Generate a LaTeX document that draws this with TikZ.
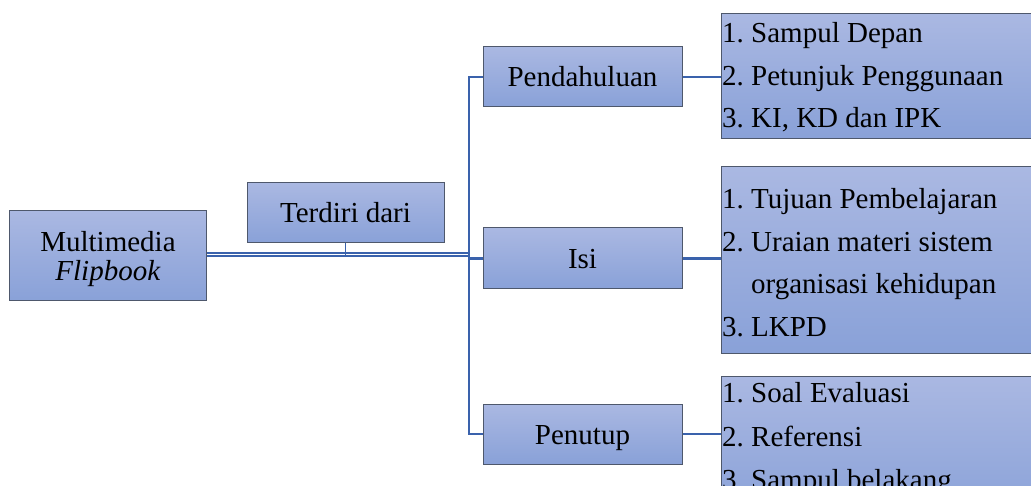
\documentclass[tikz,border=0pt]{standalone}
\usepackage{fontspec}
\setmainfont{Liberation Serif}
\frenchspacing
\definecolor{boxtop}{RGB}{170,184,226}
\definecolor{boxbot}{RGB}{137,161,216}
\definecolor{boxline}{RGB}{78,88,108}
\definecolor{linkblue}{RGB}{58,98,172}
\tikzset{
  box/.style={draw=boxline, line width=1pt, top color=boxtop, bottom color=boxbot,
    inner sep=0pt, font=\fontsize{29}{30}\selectfont, align=center,
    text height=20pt, text depth=0pt},
  panel/.style={draw=boxline, line width=1pt, top color=boxtop, bottom color=boxbot, inner sep=0pt},
  item/.style={anchor=base west, inner sep=0pt, font=\fontsize{29}{30}\selectfont},
  link/.style={draw=linkblue, line width=2.2pt},
  dbl/.style={draw=linkblue, double=white, double distance=1.6pt, line width=1.8pt}
}
\begin{document}
\begin{tikzpicture}[x=1pt,y=-1pt]
\useasboundingbox (0,0) rectangle (1031,486);
\clip (0,0) rectangle (1031,486);
% left boxes
\node[panel, minimum width=197pt, minimum height=90pt] (mm) at (108,256) {};
\node[inner sep=0pt, font=\fontsize{29}{30}\selectfont, align=center] (mmt) at (108,259) {Multimedia\\[-1pt]\textit{Flipbook}};
\node[box, minimum width=197pt, minimum height=60pt] (td) at (345.5,213) {Terdiri dari};
\node[box, minimum width=199pt, minimum height=60pt] (pend) at (582.5,77) {Pendahuluan};
\node[box, minimum width=199pt, minimum height=61pt] (isi) at (582.5,258.5) {Isi};
\node[box, minimum width=199pt, minimum height=60pt] (pen) at (582.5,434) {Penutup};
% right boxes
\node[panel, minimum width=319pt, minimum height=125pt] (b1) at (880.5,76.5) {};
\node[panel, minimum width=319pt, minimum height=187pt] (b2) at (880.5,260.5) {};
\node[panel, minimum width=319pt, minimum height=144pt] (b3) at (880.5,448) {};
% items
\node[item] (a1) at (722,43) {1. Sampul Depan};
\node[item] (a2) at (722,86) {2. Petunjuk Penggunaan};
\node[item] (a3) at (722,128) {3. KI, KD dan IPK};
\node[item] (c1) at (722,209) {1. Tujuan Pembelajaran};
\node[item] (c2) at (722,252) {2. Uraian materi sistem};
\node[item] (c2b) at (751,294) {organisasi kehidupan};
\node[item] (c3) at (722,337) {3. LKPD};
\node[item] (d1) at (722,402) {1. Soal Evaluasi};
\node[item] (d2) at (722,446) {2. Referensi};
\node[item] (d3) at (722,489) {3. Sampul belakang};
% connectors
\coordinate (jn) at (469,258.5);
\draw[dbl] ([yshift=1.5pt]mm.east) -- ([yshift=1.5pt]mm.east -| jn);
\draw[draw=linkblue, line width=1.8pt] (td.south) -- ++(0,13.6);
\draw[link] (pend.west) -| (jn) |- (pen.west);
\draw[link] (jn) -- (isi.west);
\draw[link] (pend.east) -- (pend.east -| b1.west);
\draw[link] (isi.east) -- (isi.east -| b2.west);
\draw[link] (pen.east) -- (pen.east -| b3.west);
\end{tikzpicture}
\end{document}
